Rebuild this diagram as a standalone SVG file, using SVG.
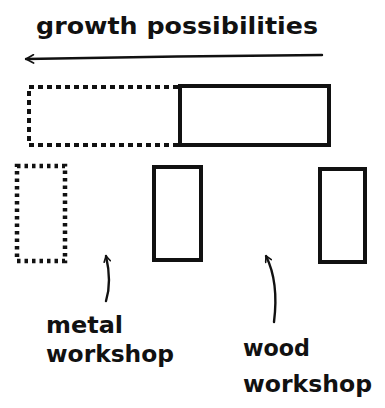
<svg xmlns="http://www.w3.org/2000/svg" width="385" height="408" viewBox="0 0 385 408">
<style>
.t{font-family:"DejaVu Sans","Liberation Sans",sans-serif;font-size:23px;font-weight:bold;fill:#111;}
.solid{fill:none;stroke:#111;stroke-width:4;}
.dash{fill:none;stroke:#111;stroke-width:4;stroke-dasharray:5 4;}
.dot{fill:none;stroke:#111;stroke-width:4.5;stroke-dasharray:3.5 4;}
.ln{fill:none;stroke:#111;stroke-width:2.4;stroke-linecap:round;}
</style>
<defs>
<marker id="ah" viewBox="0 0 10 10" refX="9" refY="5" markerWidth="8" markerHeight="8" orient="auto" markerUnits="userSpaceOnUse">
<path d="M2,1 L9,5 L2,9" fill="none" stroke="#111" stroke-width="2" stroke-linecap="round" stroke-linejoin="round"/>
</marker>
<marker id="ah2" viewBox="0 0 12 12" refX="11" refY="6" markerWidth="10" markerHeight="10" orient="auto" markerUnits="userSpaceOnUse">
<path d="M2,1 L11,6 L2,11" fill="none" stroke="#111" stroke-width="2" stroke-linecap="round" stroke-linejoin="round"/>
</marker>
</defs>
<rect width="385" height="408" fill="#fff"/>
<g id="title">
<text class="t" x="36" y="34" textLength="282" lengthAdjust="spacingAndGlyphs">growth possibilities</text>
</g>
<g id="connectors">
<path class="ln" d="M322,55 Q180,56 26,59" marker-end="url(#ah2)"/>
<path class="ln" d="M106,301 Q112,282 106,256" marker-end="url(#ah)"/>
<path class="ln" d="M274,322 Q279,282 266,256" marker-end="url(#ah)"/>
</g>
<g id="future-extension">
<path class="dash" d="M178,87 L29,87 L29,145 L178,145"/>
</g>
<g id="current-building">
<rect class="solid" x="180" y="86" width="149" height="59"/>
</g>
<g id="future-metal">
<rect class="dot" x="17" y="166" width="48" height="95"/>
</g>
<g id="metal-workshop">
<rect class="solid" x="154" y="167" width="47" height="93"/>
</g>
<g id="wood-workshop">
<rect class="solid" x="320" y="169" width="45" height="93"/>
</g>
<g id="labels">
<text class="t" x="46" y="333" textLength="77" lengthAdjust="spacingAndGlyphs">metal</text>
<text class="t" x="46" y="362" textLength="128" lengthAdjust="spacingAndGlyphs">workshop</text>
<text class="t" x="243" y="356" textLength="67" lengthAdjust="spacingAndGlyphs">wood</text>
<text class="t" x="243" y="392" textLength="129" lengthAdjust="spacingAndGlyphs">workshop</text>
</g>
</svg>
